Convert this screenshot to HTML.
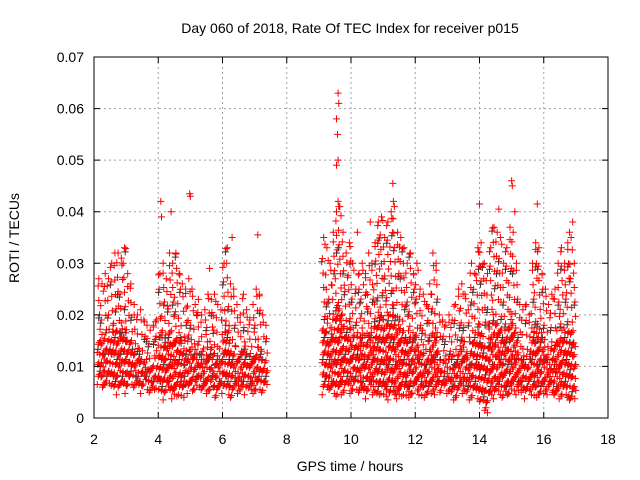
<!DOCTYPE html>
<html><head><meta charset="utf-8"><style>
body{margin:0;background:#fff;}
svg{display:block;font-family:"Liberation Sans",sans-serif;}
</style></head><body>
<svg id="chart" width="640" height="480" viewBox="0 0 640 480">
<rect x="0" y="0" width="640" height="480" fill="#fff"/>
<text x="350" y="33" font-size="14" text-anchor="middle" fill="#000">Day 060 of 2018, Rate Of TEC Index for receiver p015</text>
<text x="0" y="0" font-size="14" text-anchor="middle" transform="translate(19,238) rotate(-90)">ROTI / TECUs</text>
<text x="350" y="471" font-size="14" text-anchor="middle">GPS time / hours</text>
<g id="grid"></g>
<g id="marks"></g>
<g id="axes"></g>
</svg>
<script>
const xTicks=[2,4,6,8,10,12,14,16,18];
const yTicks=[0,0.01,0.02,0.03,0.04,0.05,0.06,0.07];
const yTickLabels=["0","0.01","0.02","0.03","0.04","0.05","0.06","0.07"];
const seg1Start=2.15;
const seg1High=[.027,.026,.028,.027,.030,.032,.032,.031,.033,.028,.026,.022,.020,.021,.019,.018,.017,.018,.019,.028,.030,.027,.032,.030,.032,.028,.026,.025,.027,.025,.022,.023,.020,.021,.024,.023,.024,.022,.021,.030,.033,.026,.025,.022,.020,.024,.021,.019,.022,.025,.024,.020,.018];
const seg1Low=[.007,.006,.006,.007,.006,.005,.006,.006,.005,.006,.007,.006,.006,.005,.006,.006,.005,.005,.006,.005,.004,.005,.005,.004,.004,.005,.004,.006,.005,.005,.006,.006,.005,.005,.005,.006,.004,.005,.005,.006,.005,.004,.005,.005,.005,.005,.006,.005,.005,.005,.006,.005,.006];
const seg2Start=9.15;
const seg2High=[.035,.033,.030,.036,.040,.041,.036,.032,.034,.030,.025,.028,.030,.028,.032,.030,.034,.038,.039,.035,.038,.040,.041,.036,.035,.033,.030,.032,.028,.030,.025,.024,.022,.026,.032,.030,.020,.019,.018,.020,.019,.022,.025,.026,.024,.021,.030,.028,.033,.034,.030,.028,.033,.037,.036,.035,.030,.033,.037,.036,.030,.022,.021,.022,.020,.030,.034,.033,.028,.025,.022,.024,.025,.030,.033,.030,.034,.035,.030];
const seg2Low=[.005,.006,.005,.005,.004,.005,.005,.006,.005,.005,.006,.005,.005,.004,.005,.005,.005,.004,.005,.004,.004,.005,.004,.004,.004,.005,.004,.004,.005,.005,.005,.004,.004,.005,.005,.005,.005,.006,.005,.005,.004,.004,.005,.005,.005,.004,.004,.005,.004,.003,.002,.003,.004,.004,.005,.005,.004,.004,.005,.005,.005,.005,.005,.004,.005,.005,.004,.004,.005,.005,.005,.005,.004,.004,.004,.005,.004,.003,.004];
const outT=[4.08,4.1,4.4,4.98,5.0,6.3,7.1,5.6,9.6,9.62,9.55,9.58,9.6,9.55,9.6,9.62,10.2,10.6,11.3,11.32,14.0,14.6,15.0,15.02,15.1,15.8,16.9,16.8,14.2,14.25];
const outV=[.042,.039,.040,.0435,.043,.035,.0355,.029,.063,.061,.058,.055,.050,.049,.042,.041,.036,.038,.0455,.042,.0415,.0405,.046,.045,.040,.0415,.038,.036,.002,.001];

const NS="http://www.w3.org/2000/svg";
const L=94,R=608,T=57,B=418;
const xs=t=>L+(t-2)/16*(R-L);
const ys=v=>B-v/0.07*(B-T);
const grid=document.getElementById('grid'),axes=document.getElementById('axes'),marks=document.getElementById('marks');
function mk(tag,attrs,parent){const e=document.createElementNS(NS,tag);for(const k in attrs)e.setAttribute(k,attrs[k]);parent.appendChild(e);return e;}
xTicks.forEach((t,i)=>{
  if(i>0&&i<xTicks.length-1){const g=mk('line',{x1:xs(t),x2:xs(t),y1:T,y2:B,stroke:'#a0a0a0','stroke-dasharray':'2,3'},grid);
  
  }
  const tk=mk('path',{d:`M${xs(t)},${B}v-6M${xs(t)},${T}v6`,stroke:'#000'},axes);
  
  
  const lb=mk('text',{x:xs(t),y:B+26,'font-size':14,'text-anchor':'middle'},axes);lb.textContent=String(t);
  
  
});
yTicks.forEach((v,i)=>{
  if(i>0&&i<yTicks.length-1){const g=mk('line',{x1:L,x2:R,y1:ys(v),y2:ys(v),stroke:'#a0a0a0','stroke-dasharray':'2,3'},grid);
  
  }
  const tk=mk('path',{d:`M${L},${ys(v)}h6M${R},${ys(v)}h-6`,stroke:'#000'},axes);
  
  
  const lb=mk('text',{x:L-10,y:ys(v)+5,'font-size':14,'text-anchor':'end'},axes);lb.textContent=yTickLabels[i];
  
  
});
const fr=mk('rect',{x:L,y:T,width:R-L,height:B-T,fill:'none',stroke:'#000'},axes);



function plus(x,y){return `M${(x-3.5).toFixed(1)},${y.toFixed(1)}h7M${x.toFixed(1)},${(y-3.5).toFixed(1)}v7`;}
let dRed='',dBlack='';
function seg(start,high,low){
  high.forEach((h,i)=>{
    const t=start+i*0.1, lo=low[i];
    const dense=lo+0.45*(h-lo);
    let k=0;
    for(let v=lo;v<=dense;v+=0.00085){
      const off=((k*37+i*11)%7-3)*0.016;
      const vo=(((k*13+i*7)%5)-2)*0.00025;
      dRed+=plus(xs(t+off),ys(v+vo));
      if(k%5===2)dBlack+=plus(xs(t+off+0.02),ys(v+0.0004));
      k++;
    }
    for(let v=dense+0.0012;v<=h;v+=0.0028){
      const off=((k*29+i*3)%5-2)*0.02;
      dRed+=plus(xs(t+off),ys(v));
      if(k%4===0)dBlack+=plus(xs(t+off-0.02),ys(v-0.0006));
      k++;
    }
    dRed+=plus(xs(t),ys(h));
  });
}
seg(seg1Start,seg1High,seg1Low);
seg(seg2Start,seg2High,seg2Low);
outT.forEach((t,i)=>{dRed+=plus(xs(t),ys(outV[i]));});
const pb=mk('path',{d:dBlack,stroke:'#333',fill:'none','stroke-width':1},marks);


const pr=mk('path',{d:dRed,stroke:'#ff0000',fill:'none','stroke-width':1},marks);


</script>
</body></html>
